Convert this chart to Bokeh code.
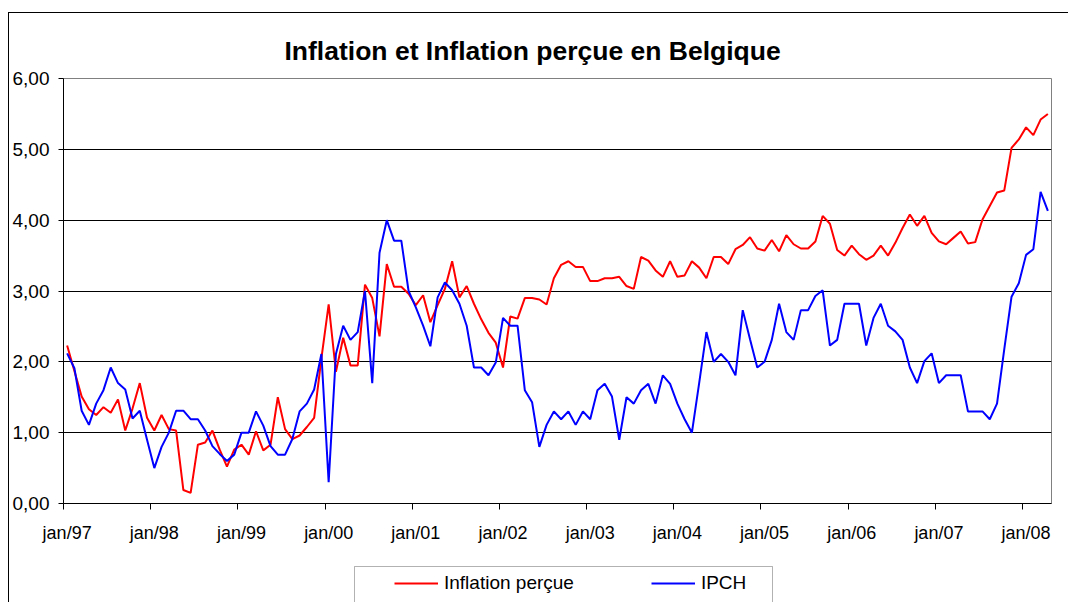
import numpy as np
from bokeh.plotting import figure
from bokeh.layouts import column
from bokeh.models import Range1d, FixedTicker, Legend, LegendItem, BoxAnnotation
from bokeh.embed import file_html
from bokeh.resources import INLINE

# ---- data (monthly, jan/97 .. apr/08) ----
inflation_percue = [
    2.23, 1.87, 1.51, 1.33, 1.25, 1.36, 1.28, 1.47, 1.03, 1.34, 1.70, 1.21,
    1.03, 1.25, 1.05, 1.03, 0.19, 0.15, 0.83, 0.86, 1.03, 0.76, 0.52, 0.76,
    0.83, 0.69, 1.02, 0.75, 0.83, 1.50, 1.05, 0.91, 0.96, 1.08, 1.21, 2.05,
    2.81, 1.86, 2.34, 1.95, 1.95, 3.09, 2.90, 2.36, 3.38, 3.06, 3.06, 2.96,
    2.80, 2.94, 2.56, 2.80, 3.03, 3.42, 2.91, 3.07, 2.82, 2.60, 2.41, 2.27,
    1.92, 2.64, 2.61, 2.90, 2.90, 2.88, 2.81, 3.18, 3.37, 3.42, 3.34, 3.34,
    3.14, 3.14, 3.18, 3.18, 3.20, 3.07, 3.03, 3.48, 3.43, 3.29, 3.20, 3.42,
    3.20, 3.22, 3.42, 3.33, 3.18, 3.48, 3.48, 3.38, 3.59, 3.65, 3.76, 3.60,
    3.57, 3.72, 3.56, 3.79, 3.66, 3.60, 3.60, 3.70, 4.06, 3.95, 3.58, 3.50,
    3.64, 3.52, 3.44, 3.50, 3.64, 3.50, 3.68, 3.89, 4.08, 3.92, 4.06, 3.82,
    3.70, 3.66, 3.75, 3.84, 3.67, 3.69, 4.01, 4.20, 4.39, 4.42, 5.02, 5.14,
    5.31, 5.20, 5.42, 5.50,
]
ipch = [
    2.12, 1.91, 1.31, 1.11, 1.41, 1.60, 1.92, 1.70, 1.61, 1.20, 1.31, 0.90,
    0.50, 0.80, 1.00, 1.31, 1.31, 1.19, 1.19, 1.03, 0.81, 0.70, 0.60, 0.69,
    1.00, 1.00, 1.30, 1.10, 0.81, 0.69, 0.69, 0.91, 1.30, 1.41, 1.61, 2.11,
    0.30, 2.11, 2.51, 2.31, 2.42, 3.00, 1.70, 3.54, 4.00, 3.71, 3.71, 3.00,
    2.77, 2.51, 2.22, 2.91, 3.12, 3.01, 2.82, 2.51, 1.92, 1.92, 1.81, 1.99,
    2.62, 2.51, 2.51, 1.60, 1.43, 0.80, 1.11, 1.30, 1.19, 1.30, 1.11, 1.30,
    1.19, 1.60, 1.69, 1.51, 0.90, 1.50, 1.41, 1.60, 1.69, 1.41, 1.81, 1.69,
    1.41, 1.19, 1.00, 1.70, 2.42, 2.00, 2.11, 2.00, 1.81, 2.73, 2.32, 1.92,
    2.00, 2.31, 2.82, 2.42, 2.31, 2.73, 2.73, 2.93, 3.01, 2.23, 2.31, 2.82,
    2.82, 2.82, 2.23, 2.62, 2.82, 2.51, 2.43, 2.31, 1.92, 1.70, 2.01, 2.12,
    1.70, 1.81, 1.81, 1.81, 1.30, 1.30, 1.30, 1.19, 1.41, 2.18, 2.92, 3.11,
    3.51, 3.59, 4.40, 4.13,
]
x_tick_labels = ["jan/97", "jan/98", "jan/99", "jan/00", "jan/01", "jan/02",
                 "jan/03", "jan/04", "jan/05", "jan/06", "jan/07", "jan/08"]
y_tick_values = [0, 1, 2, 3, 4, 5, 6]
y_tick_labels = ["0,00", "1,00", "2,00", "3,00", "4,00", "5,00", "6,00"]
series_names = ["Inflation perçue", "IPCH"]
series_colors = ["#FF0000", "#0000FF"]
title_text = "Inflation et Inflation perçue en Belgique"

FONT = "Liberation Sans"
n = len(ipch)
months = list(range(n))

# ---------------- main chart ----------------
p = figure(width=1059, height=547, output_backend="svg", toolbar_location=None,
           title=title_text,
           x_range=Range1d(-0.5, n - 0.5), y_range=Range1d(0, 6),
           min_border_left=54, min_border_right=17,
           min_border_top=65, min_border_bottom=57)
p.background_fill_color = "white"
p.border_fill_color = "white"
p.outline_line_color = "#808080"
p.outline_line_width = 1

p.title.align = "left"
p.title.offset = 221
p.title.standoff = 25
p.title.text_font = FONT
p.title.text_font_size = "26.5px"
p.title.text_font_style = "bold"
p.title.text_color = "black"

p.yaxis.ticker = FixedTicker(ticks=y_tick_values)
p.yaxis.major_label_overrides = {v: l for v, l in zip(y_tick_values, y_tick_labels)}
p.yaxis.major_tick_out = 5
p.yaxis.major_tick_in = 0
p.yaxis.minor_tick_out = 0
p.yaxis.minor_tick_in = 0
p.yaxis.major_label_standoff = 9
p.yaxis.axis_line_color = "black"
p.yaxis.major_tick_line_color = "black"
p.yaxis.major_label_text_font = FONT
p.yaxis.major_label_text_font_size = "19px"
p.yaxis.major_label_text_color = "black"

label_pos = [12 * k for k in range(len(x_tick_labels))]
p.xaxis.ticker = FixedTicker(ticks=label_pos,
                             minor_ticks=[12 * k - 0.499 for k in range(len(x_tick_labels))])
p.xaxis.major_label_overrides = {v: l for v, l in zip(label_pos, x_tick_labels)}
p.xaxis.major_tick_out = 6
p.xaxis.major_tick_in = 0
p.xaxis.major_tick_line_color = None
p.xaxis.minor_tick_out = 6
p.xaxis.minor_tick_in = 0
p.xaxis.minor_tick_line_color = "black"
p.xaxis.major_label_standoff = 13
p.xaxis.axis_line_color = "black"
p.xaxis.major_label_text_font = FONT
p.xaxis.major_label_text_font_size = "18px"
p.xaxis.major_label_text_color = "black"

p.xgrid.visible = False
p.ygrid.ticker = FixedTicker(ticks=y_tick_values[1:-1])
p.ygrid.grid_line_color = "black"
p.ygrid.grid_line_width = 1

p.line(months, inflation_percue, line_color=series_colors[0], line_width=2)
p.line(months, ipch, line_color=series_colors[1], line_width=2)

# ---------------- legend strip (its frame lines up with the chart frame) ----------------
p2 = figure(width=1059, height=42, output_backend="svg", toolbar_location=None,
            x_axis_type=None, y_axis_type=None,
            x_range=Range1d(63, 1051), y_range=Range1d(602, 560),
            min_border_left=54, min_border_right=17,
            min_border_top=0, min_border_bottom=0)
p2.outline_line_color = None
p2.background_fill_color = "white"
p2.border_fill_color = "white"

p2.add_layout(BoxAnnotation(left=354, right=772, top=566, bottom=640,
                            fill_color="white", fill_alpha=1,
                            line_color="black", line_width=1))

legend_renderers = [p2.line(x=np.array([np.nan]), y=np.array([np.nan]),
                            line_color=c, line_width=2) for c in series_colors]
legend = Legend(items=[LegendItem(label=name, renderers=[r])
                       for name, r in zip(series_names, legend_renderers)],
                orientation="horizontal", location=(324, 1),
                padding=7, spacing=77, glyph_width=44, glyph_height=20,
                label_standoff=6, label_width=20, label_height=22, margin=0,
                border_line_alpha=0, background_fill_alpha=0,
                label_text_font=FONT, label_text_font_size="19px",
                label_text_color="black")
p2.add_layout(legend, "center")

layout = column(p, p2, spacing=0)
# outer chart border: left and top edges are inside the window
layout.styles = {"margin-left": "8px", "margin-top": "12px",
                 "border-left": "1px solid black", "border-top": "1px solid black"}

open("out.html", "w").write(file_html(layout, INLINE))
